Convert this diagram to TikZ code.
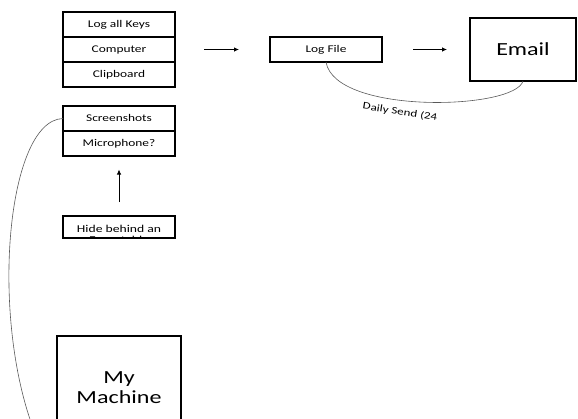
\documentclass[tikz,border=0pt]{standalone}
\usepackage{fontspec}
\setmainfont{Carlito}
\usetikzlibrary{positioning,arrows.meta}
\newcommand{\wide}[1]{\scalebox{1.3}[1]{#1}}
\tikzset{
  cell/.style={draw,line width=1.1pt,outer sep=0pt,inner sep=0pt,minimum width=112pt,minimum height=25pt,text height=7pt,text depth=2pt,font=\fontsize{10.3}{12}\selectfont},
  bigbox/.style={draw,line width=1.1pt,outer sep=0pt,inner sep=0pt,align=center,font=\fontsize{18.5}{20}\selectfont},
  flow/.style={-{Latex[length=5pt,width=4.5pt]},line width=0.8pt},
  wire/.style={black!65,line width=0.6pt},
}
\begin{document}
\begin{tikzpicture}[x=1pt,y=-1pt]
    \useasboundingbox (0,0) rectangle (578,418);
    \clip (0,0) rectangle (578,418);
    %what is logged
    \node[cell] (keys) at (119,24.5) {\wide{Log all Keys}};
    \node[cell,below=0pt of keys] (computer) {\wide{Computer}};
    \node[cell,below=0pt of computer] (clipboard) {\wide{Clipboard}};
    \node[cell] (shots) at (119,118.5) {\wide{Screenshots}};
    \node[cell,below=0pt of shots] (micro) {\wide{Microphone?}};
    %hidden program
    \node[cell,minimum height=22pt] (hide) at (119,227) {};
    \begin{scope}
        \clip (hide.south west) rectangle (hide.north east);
        \node[align=center,inner sep=0pt,anchor=north,font=\fontsize{10.5}{11}\selectfont] (hidetext) at ([yshift=-9.5pt]hide.north) {\wide{Hide behind an}\\\wide{Executable}};
    \end{scope}
    \node[bigbox,minimum width=124pt,minimum height=104pt] (machine) at (119,388) {\wide{My}\\\wide{Machine}};
    %output
    \node[cell] (logfile) at (326,49.5) {\wide{Log File}};
    \node[bigbox,minimum width=106pt,minimum height=63pt] (email) at (523,49.5) {\wide{Email}};
    %arrows
    \draw[flow,shorten <=29pt,shorten >=31pt] (computer.east) -- (logfile.west);
    \draw[flow,shorten <=31pt,shorten >=23pt] (logfile.east) -- (email.west);
    \draw[flow,shorten <=14pt,shorten >=13.5pt] (hide.north) -- (micro.south);
    %curves
    \draw[wire] (logfile.south) .. controls (335,115) and (515,110) .. (email.south);
    \node[rotate=-9,inner sep=0pt,font=\fontsize{10}{12}\selectfont] (daily) at (400,112) {\wide{Daily Send (24}};
    \coordinate (tail) at (40,445);
    \draw[wire] (shots.west) .. controls (5,120) and (-12,330) .. (tail);
\end{tikzpicture}
\end{document}
